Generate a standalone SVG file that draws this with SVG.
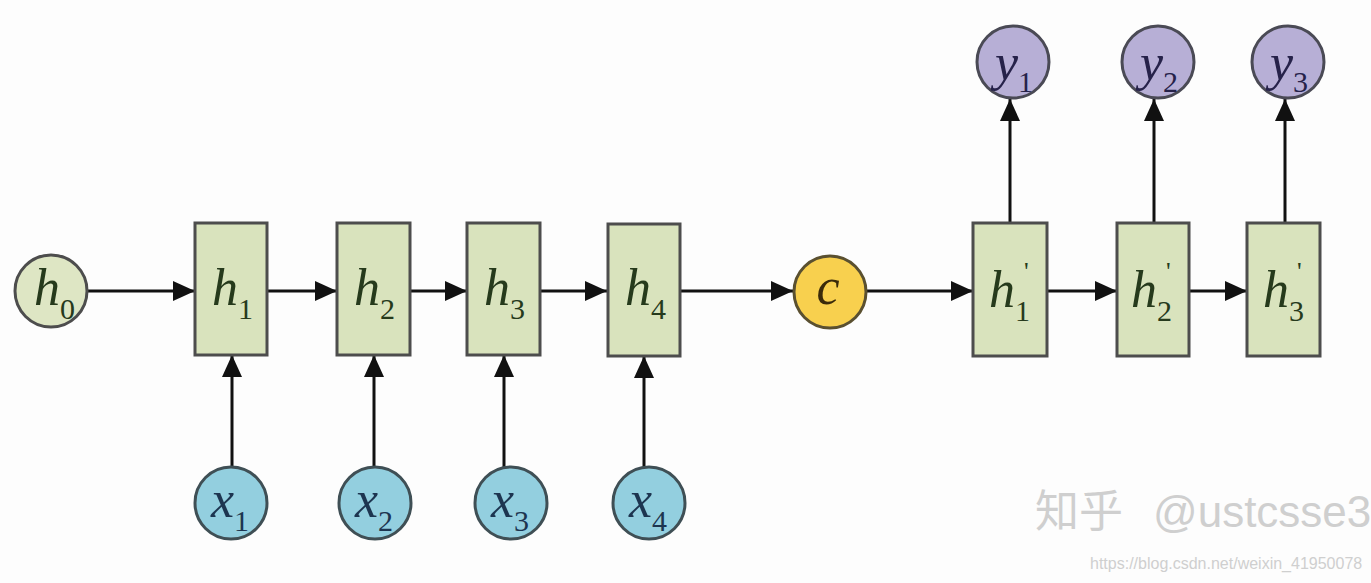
<svg xmlns="http://www.w3.org/2000/svg" width="1371" height="583" viewBox="0 0 1371 583">
<defs>
<marker id="ah" markerUnits="userSpaceOnUse" markerWidth="22" markerHeight="20" refX="22" refY="10" orient="auto">
<path d="M0,0 L22,10 L0,20 z" fill="#111"/>
</marker>
<style>
.box{fill:#d9e3bd;stroke:#4d4d4d;stroke-width:3}
.hc{fill:#dee6c4;stroke:#4d4d4d;stroke-width:3}
.xc{fill:#93cfdf;stroke:#3f4f55;stroke-width:3}
.yc{fill:#b7afd6;stroke:#4a4a55;stroke-width:3}
.cc{fill:#f8d04e;stroke:#5a5030;stroke-width:3}
.lbl{font-family:"Liberation Serif","Times New Roman",serif;font-style:italic;font-size:52px}
.sub{font-size:30px;font-style:normal}
.pr{font-family:"Liberation Serif",serif;font-size:26px}
.hl{fill:#263a1c}
.xl{fill:#1d3550}
.yl{fill:#26224a}
.edge{stroke:#111;stroke-width:3;fill:none;marker-end:url(#ah)}
.wm{font-family:"Liberation Sans","Noto Sans CJK SC",sans-serif;fill:#cfcfcf}
</style>
</defs>
<rect width="1371" height="583" fill="#fdfdfd"/>
<g id="connectors">
<line class="edge" x1="88" y1="291" x2="195" y2="291"/>
<line class="edge" x1="267" y1="291" x2="337" y2="291"/>
<line class="edge" x1="410" y1="291" x2="467" y2="291"/>
<line class="edge" x1="540" y1="291" x2="607" y2="291"/>
<line class="edge" x1="680" y1="291" x2="793" y2="291"/>
<line class="edge" x1="867" y1="291" x2="973" y2="291"/>
<line class="edge" x1="1047" y1="291" x2="1117" y2="291"/>
<line class="edge" x1="1189" y1="291" x2="1247" y2="291"/>
<line class="edge" x1="232" y1="467" x2="232" y2="355"/>
<line class="edge" x1="374" y1="467" x2="374" y2="355"/>
<line class="edge" x1="504" y1="467" x2="504" y2="355"/>
<line class="edge" x1="644" y1="467" x2="644" y2="356"/>
<line class="edge" x1="1010" y1="223" x2="1010" y2="99"/>
<line class="edge" x1="1154" y1="223" x2="1154" y2="99"/>
<line class="edge" x1="1285" y1="223" x2="1285" y2="99"/>
</g>
<g id="h0"><circle class="hc" cx="51" cy="291" r="36"/><text class="lbl hl" x="34" y="305">h<tspan class="sub" dy="14">0</tspan></text></g>
<g id="h1"><rect class="box" x="195" y="223" width="72" height="132"/><text class="lbl hl" x="212" y="305">h<tspan class="sub" dy="14">1</tspan></text></g>
<g id="h2"><rect class="box" x="337" y="223" width="73" height="132"/><text class="lbl hl" x="354" y="305">h<tspan class="sub" dy="14">2</tspan></text></g>
<g id="h3"><rect class="box" x="467" y="223" width="73" height="132"/><text class="lbl hl" x="484" y="305">h<tspan class="sub" dy="14">3</tspan></text></g>
<g id="h4"><rect class="box" x="608" y="224" width="72" height="132"/><text class="lbl hl" x="625" y="305">h<tspan class="sub" dy="14">4</tspan></text></g>
<g id="c"><circle class="cc" cx="830" cy="292" r="36"/><text class="lbl" fill="#3a2a0a" x="828" y="304" text-anchor="middle">c</text></g>
<g id="hp1"><rect class="box" x="973" y="223" width="74" height="133"/><text class="lbl hl" x="989" y="307">h<tspan class="sub" dy="14">1</tspan></text><text class="pr hl" x="1024" y="280">'</text></g>
<g id="hp2"><rect class="box" x="1117" y="223" width="72" height="133"/><text class="lbl hl" x="1131" y="307">h<tspan class="sub" dy="14">2</tspan></text><text class="pr hl" x="1166" y="280">'</text></g>
<g id="hp3"><rect class="box" x="1247" y="223" width="73" height="133"/><text class="lbl hl" x="1263" y="307">h<tspan class="sub" dy="14">3</tspan></text><text class="pr hl" x="1297" y="280">'</text></g>
<g id="x1"><circle class="xc" cx="231" cy="503" r="36"/><text class="lbl xl" x="211" y="517">x<tspan class="sub" dy="14">1</tspan></text></g>
<g id="x2"><circle class="xc" cx="375" cy="503" r="36"/><text class="lbl xl" x="355" y="517">x<tspan class="sub" dy="14">2</tspan></text></g>
<g id="x3"><circle class="xc" cx="511" cy="503" r="36"/><text class="lbl xl" x="491" y="517">x<tspan class="sub" dy="14">3</tspan></text></g>
<g id="x4"><circle class="xc" cx="649" cy="503" r="36"/><text class="lbl xl" x="629" y="517">x<tspan class="sub" dy="14">4</tspan></text></g>
<g id="y1"><circle class="yc" cx="1013" cy="62" r="36"/><text class="lbl yl" x="995" y="80">y<tspan class="sub" dy="12">1</tspan></text></g>
<g id="y2"><circle class="yc" cx="1158" cy="62" r="36"/><text class="lbl yl" x="1140" y="80">y<tspan class="sub" dy="12">2</tspan></text></g>
<g id="y3"><circle class="yc" cx="1288" cy="62" r="36"/><text class="lbl yl" x="1270" y="80">y<tspan class="sub" dy="12">3</tspan></text></g>
<text class="wm" y="527" font-size="44"><tspan x="1035">知乎</tspan><tspan x="1153">@ustcsse3</tspan></text>
<text class="wm" x="1090" y="569" font-size="16" fill="#d8d8d8">https://blog.csdn.net/weixin_41950078</text>
</svg>
